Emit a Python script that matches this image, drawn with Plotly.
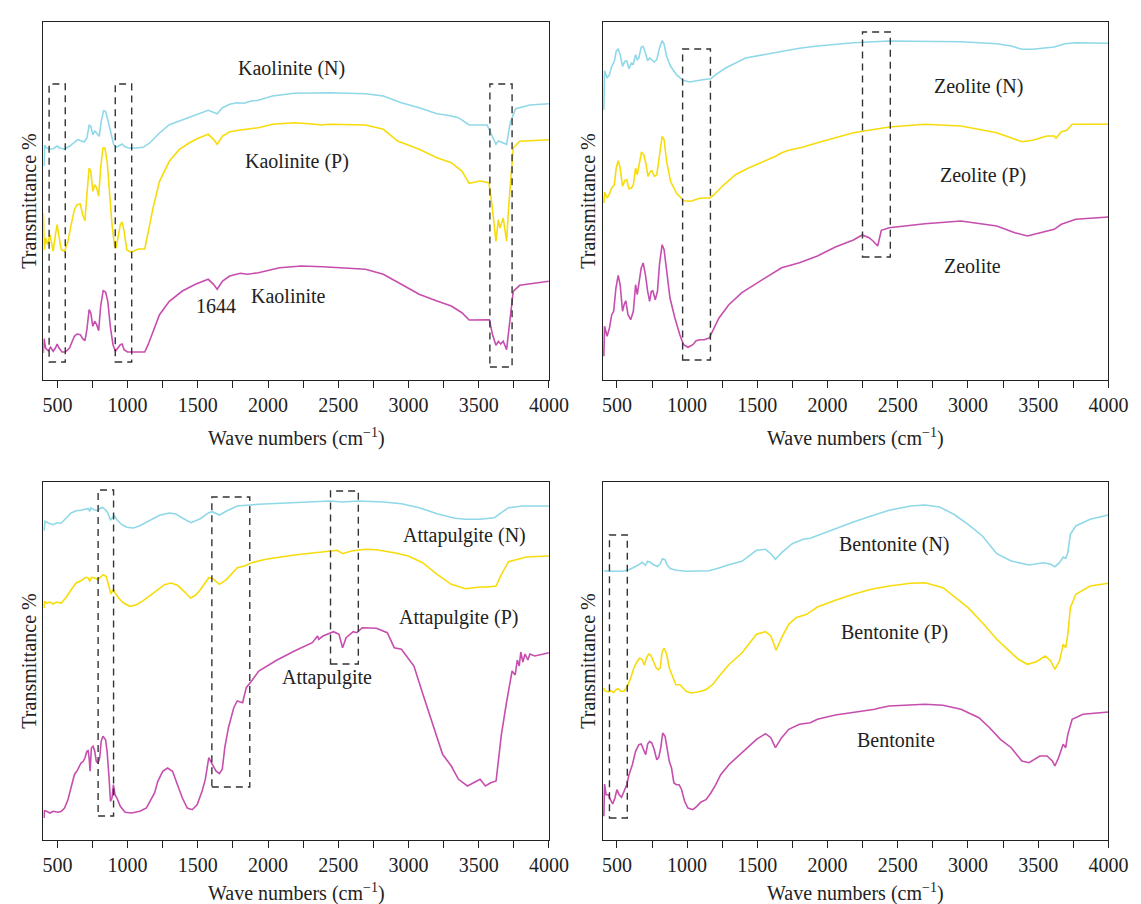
import plotly.graph_objects as go

# ---------------- data (wavenumber cm-1, transmittance a.u.) ----------------
kao_n_wn = [405, 409, 423, 447, 470, 498, 516, 551, 586, 621, 645, 668, 691, 710, 726, 738, 752, 766, 780, 798,
            812, 829, 843, 859, 882, 901, 920, 943, 961, 975, 1006, 1064, 1111, 1157, 1227, 1297, 1390, 1483, 1553,
            1574, 1638, 1676, 1727, 1778, 1829, 1880, 1931, 2032, 2185, 2440, 2694, 2821, 2949, 3076, 3203, 3280,
            3356, 3432, 3560, 3598, 3623, 3641, 3674, 3699, 3725, 3763, 3865, 4000]
kao_n_t = [213.7, 234.7, 232, 231, 231.3, 234, 232, 231, 233.7, 238, 240.3, 239.3, 238, 242, 254.7, 253.7, 245.3,
           248.7, 247, 243.7, 258.7, 269.3, 268.7, 260.3, 245.3, 235.3, 232.7, 234.7, 236, 233.7, 232, 232, 232.7,
           237, 247, 255.3, 260.3, 265.3, 269.3, 269.7, 266.3, 272.3, 275.7, 277.3, 276.7, 279, 279.7, 284, 286.7,
           287.3, 286.3, 284, 277.3, 272.3, 266.3, 264.7, 262.3, 255, 255, 242.3, 235.7, 239, 237.3, 235.7, 257.3,
           271.3, 275, 276.3]

kao_p_wn = [400, 407, 416, 430, 447, 470, 486, 498, 509, 528, 551, 575, 598, 621, 640, 663, 680, 696, 710, 726,
            738, 752, 766, 780, 794, 808, 824, 838, 854, 873, 889, 906, 917, 931, 948, 961, 975, 994, 1017, 1041,
            1076, 1122, 1146, 1181, 1227, 1297, 1367, 1437, 1507, 1574, 1612, 1638, 1676, 1727, 1803, 1931, 2032,
            2185, 2338, 2376, 2440, 2694, 2821, 2923, 3076, 3203, 3305, 3381, 3432, 3509, 3573, 3595, 3623, 3640,
            3652, 3675, 3699, 3712, 3746, 3792, 4000]
kao_p_t = [167, 130.3, 142, 135.3, 145.3, 128.7, 145.3, 155.3, 145.3, 130.3, 128.7, 138.7, 155.3, 170.3, 175.3,
           176, 165.3, 159.3, 185.3, 212, 208.7, 188.7, 195.3, 192, 183.7, 212, 232, 232, 218.7, 185.3, 155.3,
           135.3, 132, 142, 155.3, 158, 148.7, 130.3, 128, 128.7, 131, 131, 148.7, 172, 198.7, 218.7, 230.3, 237,
           242, 245.7, 240.7, 235.7, 244, 248.3, 250, 252.3, 255.7, 257.3, 255.7, 255, 255.7, 255, 250.7, 239,
           230.7, 222.3, 217.3, 209, 196.7, 199, 197.3, 175, 138.7, 160.3, 152, 162, 138.7, 170, 232, 238.7, 240.3]

kao_wn = [400, 405, 416, 435, 451, 470, 486, 498, 512, 533, 556, 586, 621, 640, 663, 680, 696, 710, 726, 738, 752,
          766, 780, 794, 808, 826, 843, 859, 878, 896, 913, 931, 948, 961, 975, 999, 1064, 1122, 1146, 1181, 1227,
          1297, 1390, 1483, 1553, 1574, 1612, 1638, 1676, 1727, 1803, 1854, 1931, 2083, 2236, 2389, 2694, 2821,
          2949, 3076, 3203, 3305, 3381, 3432, 3576, 3599, 3623, 3640, 3657, 3675, 3699, 3722, 3746, 3792, 4000]
kao_t = [27, 41.3, 32, 29.3, 32.7, 28.7, 32, 36, 32, 28, 28, 32, 43.7, 46, 45.3, 41.3, 39.3, 50.3, 70.3, 67, 53.7,
         58.7, 55.3, 49.3, 73.7, 89.3, 88, 78.7, 52, 35.3, 28.7, 32, 35.3, 36, 30.3, 28, 28, 28, 35.3, 48.7, 65.3,
         78.7, 89, 95.7, 99.3, 100.7, 95.7, 90.7, 99, 104, 106.7, 105.7, 107.3, 112.3, 114, 113.3, 110.7, 105.7,
         95.7, 85.7, 79, 74, 67.3, 60, 60.3, 45.3, 34.7, 38.7, 36, 38.7, 30.3, 58.7, 88.7, 94.7, 98.7]

zeo_n_wn = [407, 412, 430, 447, 463, 482, 495, 509, 523, 540, 556, 570, 586, 603, 617, 633, 645, 656, 673, 687,
            703, 719, 733, 749, 766, 784, 803, 822, 836, 854, 882, 924, 971, 1017, 1064, 1111, 1169, 1204, 1274,
            1344, 1417, 1622, 1800, 1928, 2184, 2439, 2694, 2950, 3205, 3308, 3384, 3461, 3614, 3691, 3768, 4000]
zeo_n_t = [270.3, 309.3, 302, 305.3, 313.7, 318.7, 328.7, 331.3, 325.3, 313.7, 318.7, 319.3, 311.3, 317, 316,
           325.3, 320.3, 322, 332.7, 333.7, 327, 319.3, 322, 320.3, 318, 320.3, 332, 339.3, 336, 323.7, 313.7,
           305.3, 299.7, 298, 299.3, 300.3, 301.3, 305.3, 312, 317, 322, 327.3, 331.7, 334, 337.3, 339, 339,
           338.3, 336.3, 334, 330.7, 330.7, 333, 336.3, 337.3, 336.7]

zeo_p_wn = [407, 412, 430, 447, 463, 482, 495, 509, 523, 540, 556, 570, 586, 603, 617, 633, 645, 659, 675, 691,
            708, 721, 738, 749, 766, 784, 803, 822, 836, 854, 882, 924, 975, 1029, 1076, 1111, 1162, 1192, 1250,
            1344, 1437, 1519, 1596, 1634, 1673, 1724, 1826, 1928, 2184, 2439, 2694, 2950, 3205, 3308, 3384, 3461,
            3563, 3614, 3627, 3665, 3704, 3742, 4000]
zeo_p_t = [177, 188, 182, 186, 192, 195.3, 212, 219.3, 212, 193.7, 199.3, 200.3, 191.3, 192, 195.3, 212, 205.3,
           215.3, 228, 225.3, 215.3, 203.7, 208.7, 209.3, 203.7, 205.3, 225.3, 243.7, 240.3, 218.7, 198.7, 187,
           179.3, 178.7, 181.3, 182, 182, 185.3, 193.7, 205.3, 212, 217, 222.3, 224, 227.3, 229.7, 233, 237.3,
           247.3, 253, 255.7, 254, 247.3, 242.3, 238.3, 239.7, 244, 244, 241.7, 248.3, 249.7, 255.7, 255.7]

zeo_wn = [407, 412, 430, 447, 463, 477, 493, 509, 523, 540, 551, 563, 579, 598, 617, 633, 645, 656, 673, 687, 703,
          719, 733, 745, 756, 773, 789, 803, 822, 836, 854, 878, 913, 948, 975, 1006, 1041, 1064, 1092, 1122, 1157,
          1181, 1227, 1297, 1390, 1483, 1622, 1673, 1800, 1928, 2056, 2184, 2247, 2296, 2324, 2357, 2383, 2439,
          2694, 2950, 3205, 3333, 3423, 3512, 3614, 3665, 3768, 4000]
zeo_t = [23.7, 53.7, 43.7, 52, 65.3, 68.7, 92, 104.7, 95.3, 68.7, 75.3, 79.3, 65.3, 60.3, 68.7, 95.3, 85.3, 95.3,
         112, 117, 105.3, 88.7, 78.7, 88.7, 89.3, 80.3, 88.7, 115.3, 135.3, 130.3, 108.7, 82, 62, 45.3, 35.3, 32.7,
         35.3, 39.3, 40.3, 40.3, 42, 48.7, 62, 75.3, 87.3, 95.7, 107.3, 112.3, 117.3, 124, 133, 140, 145, 142.3,
         139, 134, 149.7, 152.3, 156.3, 159, 154, 147.3, 144, 147.3, 150.7, 155.7, 160.7, 163]

att_n_wn = [405, 412, 435, 470, 493, 528, 563, 598, 633, 668, 703, 719, 731, 738, 761, 789, 801, 819, 843, 859,
            878, 892, 906, 924, 959, 994, 1041, 1087, 1134, 1181, 1227, 1297, 1344, 1390, 1451, 1518, 1578, 1603,
            1654, 1705, 1781, 1934, 2188, 2442, 2531, 2645, 2823, 2950, 3077, 3204, 3332, 3408, 3510, 3611, 3662,
            3713, 3814, 4000]
att_n_t = [309.3, 318.7, 317, 315.3, 317, 317, 322, 327, 329.3, 329.7, 331, 331.3, 328.7, 332, 330.3, 329.3,
           331.3, 332.7, 330.3, 327, 320.3, 322.7, 324.3, 320.3, 315.3, 312.7, 312, 314.3, 318, 321.3, 324.7, 327,
           326, 322, 317.3, 321.3, 327.3, 328.3, 325, 329, 334, 335.7, 337.3, 339, 338, 339, 338, 336.3, 332.3,
           326.3, 321.7, 320.7, 320.7, 322.3, 327.3, 332.3, 334, 334]

att_p_wn = [405, 407, 423, 447, 470, 493, 528, 563, 598, 633, 668, 703, 719, 731, 742, 766, 789, 808, 826, 847,
            866, 882, 896, 913, 936, 971, 1017, 1064, 1111, 1169, 1215, 1262, 1309, 1355, 1402, 1448, 1483, 1518,
            1578, 1603, 1654, 1705, 1781, 1832, 1883, 1984, 2188, 2442, 2493, 2531, 2594, 2696, 2772, 2899, 2999,
            3101, 3204, 3305, 3408, 3510, 3560, 3624, 3662, 3713, 3840, 4000]
att_p_t = [232, 238.7, 237, 238, 236, 238, 237, 242.7, 250.3, 257, 259.3, 262.7, 262, 258.7, 262.7, 262, 260.3,
           262.7, 265.3, 263.7, 255.3, 246, 250.3, 247, 242, 237, 233.7, 235.3, 239.3, 245.3, 250.3, 255.3, 257,
           254.7, 248.7, 242, 244.7, 250.3, 262.3, 261.7, 255.7, 260.7, 272.3, 274, 277.3, 280.7, 285, 289, 289.7,
           286.3, 289, 290.7, 290.3, 287.3, 284, 277.3, 265.7, 255.7, 251.3, 253, 253, 254, 265.7, 278.3, 283, 284]

att_wn = [405, 407, 423, 447, 470, 505, 528, 551, 575, 598, 621, 645, 668, 684, 696, 710, 719, 726, 733, 742, 754,
          766, 777, 789, 801, 812, 824, 843, 854, 868, 878, 889, 899, 910, 924, 948, 982, 1029, 1087, 1134, 1169,
          1192, 1215, 1250, 1285, 1320, 1355, 1390, 1425, 1460, 1495, 1530, 1553, 1578, 1603, 1629, 1654, 1674,
          1692, 1718, 1756, 1781, 1819, 1845, 1883, 1934, 2061, 2188, 2315, 2353, 2361, 2391, 2467, 2505, 2531,
          2556, 2607, 2633, 2671, 2772, 2849, 2899, 2950, 3039, 3103, 3179, 3243, 3305, 3356, 3420, 3510, 3548,
          3586, 3624, 3662, 3700, 3738, 3760, 3775, 3789, 3800, 3815, 3830, 3850, 3865, 3900, 3950, 4000]
att_t = [22, 29.3, 28.7, 27, 28.7, 27.7, 28.7, 32, 40.3, 52, 65.3, 70.3, 77, 78.7, 82, 88.7, 89.3, 82, 68.7, 92,
         93.7, 88.7, 78.7, 77, 82, 98.7, 103.7, 100.3, 88.7, 62, 38.7, 42, 55.3, 45.3, 42, 33.7, 27.7, 27, 28.7, 32,
         42, 47, 58.7, 68.7, 72, 68.7, 55.3, 42, 32, 30.3, 35.3, 48.7, 60.3, 82.3, 75.7, 69, 66.3, 70.7, 92.3,
         112.3, 132.3, 139, 137.3, 152.3, 159, 169, 179.7, 189, 197.3, 204, 200.7, 204, 208.3, 205.7, 192.3, 202.3,
         208.3, 207.3, 212.3, 211.7, 207.3, 192.3, 190.7, 174, 145.7, 112.3, 85.7, 74, 60.7, 54, 60.7, 54, 57.3,
         59, 105.7, 139, 169, 165, 180, 174, 188, 178, 186, 180, 186, 184, 186, 187.3]

ben_n_wn = [407, 435, 482, 540, 586, 621, 656, 680, 703, 719, 738, 761, 789, 808, 824, 843, 859, 882, 924, 994,
            1064, 1157, 1227, 1297, 1390, 1494, 1558, 1596, 1629, 1673, 1749, 1826, 1877, 1979, 2081, 2184, 2311,
            2439, 2592, 2694, 2797, 2899, 3001, 3103, 3205, 3308, 3435, 3538, 3589, 3619, 3652, 3678, 3696, 3711,
            3729, 3768, 3870, 4000]
ben_n_t = [269.3, 268.7, 268.7, 268.7, 270.3, 272.7, 275.3, 277.7, 274.7, 278.7, 277.7, 275.3, 273.7, 276, 281.3,
           280.3, 274.7, 271.3, 269.7, 268.7, 268.7, 269.3, 272, 275.3, 278.7, 289.7, 290.7, 286.3, 280.7, 287.3,
           296.3, 300.7, 301.7, 307.3, 313, 318, 324, 329.7, 334, 335, 333, 325.7, 315.7, 304, 286.3, 279, 275,
           277.3, 275.7, 273.3, 277.3, 283, 281.7, 287.3, 305.7, 314, 320.7, 325]

ben_p_wn = [407, 412, 440, 458, 477, 493, 509, 528, 551, 575, 598, 621, 645, 663, 680, 696, 710, 726, 742, 761,
            780, 796, 808, 822, 836, 854, 873, 896, 920, 948, 971, 994, 1029, 1076, 1134, 1181, 1227, 1297, 1390,
            1494, 1558, 1596, 1634, 1673, 1724, 1775, 1851, 1928, 2056, 2184, 2311, 2439, 2592, 2694, 2822, 2899,
            3001, 3103, 3205, 3282, 3359, 3423, 3487, 3550, 3589, 3619, 3652, 3678, 3696, 3711, 3729, 3768, 3870,
            4000]
ben_p_t = [152, 149.3, 148, 149.3, 147.3, 150.3, 151.3, 148.7, 148.7, 153.7, 162, 172, 178.7, 182, 180.3, 174.7,
           182, 186, 184.7, 178.7, 172, 170.3, 172, 188, 192, 186, 172, 163.7, 155.3, 155.3, 152, 148.7, 147, 148,
           150.3, 155.3, 163.7, 175.3, 187, 205.7, 208.3, 204, 189.7, 202.3, 215.7, 222.3, 225.7, 233, 239.7, 245.7,
           250.7, 254, 256.7, 257.3, 252.3, 244, 232.3, 217.3, 200.7, 190.7, 180.7, 175.7, 178.3, 184, 179, 170.7,
           179, 195.7, 192.3, 205.7, 232.3, 245.7, 254, 256.7]

ben_wn = [407, 412, 423, 440, 454, 470, 486, 500, 516, 533, 551, 570, 586, 610, 633, 656, 673, 691, 705, 719, 733,
          749, 766, 784, 798, 812, 826, 843, 859, 873, 889, 906, 924, 943, 961, 982, 1006, 1041, 1069, 1099, 1134,
          1169, 1204, 1239, 1297, 1390, 1494, 1558, 1596, 1629, 1673, 1724, 1800, 1877, 1928, 2056, 2184, 2337,
          2362, 2439, 2694, 2822, 2950, 3078, 3154, 3231, 3308, 3384, 3435, 3512, 3563, 3601, 3619, 3645, 3678,
          3696, 3711, 3742, 3819, 4000]
ben_t = [23.7, 56, 45.3, 45.3, 40.3, 36, 42, 50.3, 45.3, 42.7, 48.7, 55.3, 65.3, 75.3, 88.7, 95.3, 96, 90.3, 85.3,
         96, 98.7, 97, 90.3, 80.3, 82.7, 92, 107, 103.7, 92, 78.7, 72, 57, 55.3, 55.3, 50.3, 38.7, 32, 30.3, 33.7,
         38, 40.3, 47, 55.3, 65.3, 75.3, 87, 100.7, 106.3, 102.3, 92.3, 102.3, 110.7, 115.7, 117.3, 120.7, 125,
         127.3, 130.7, 131.7, 134, 135.7, 134.7, 130.7, 122.3, 112.3, 100.7, 92.3, 79, 77.3, 84, 84, 79, 74, 82.3,
         95.7, 92.3, 105.7, 120.7, 125.7, 128]

# highlighted regions (wavenumber from, to, T bottom, T top) per panel
kao_boxes = [(441, 556, 18, 296), (912, 1029, 18, 296), (3580, 3738, 13, 296)]
zeo_boxes = [(968, 1166, 20, 331), (2249, 2447, 123, 348)]
att_boxes = [(790, 900, 24, 350), (1600, 1870, 53, 343), (2445, 2643, 176, 349)]
ben_boxes = [(447, 574, 22, 305)]

# labels: (text, wavenumber, T)
kao_labels = [("Kaolinite (N)", 2168, 311), ("Kaolinite (P)", 2203, 218), ("1644", 1630, 74), ("Kaolinite", 2148, 84)]
zeo_labels = [("Zeolite (N)", 3077, 293), ("Zeolite (P)", 3105, 204), ("Zeolite", 3035, 114)]
att_labels = [("Attapulgite (N)", 3399, 305), ("Attapulgite (P)", 3357, 223), ("Attapulgite", 2420, 163)]
ben_labels = [("Bentonite (N)", 2476, 296), ("Bentonite (P)", 2476, 208), ("Bentonite", 2490, 100)]

major_ticks = [500, 1000, 1500, 2000, 2500, 3000, 3500, 4000]
major_text = ["500", "1000", "1500", "2000", "2500", "3000", "3500", "4000"]
minor_ticks = [750, 1250, 1750, 2250, 2750, 3250, 3750]

C_N = "#8fd8e8"
C_P = "#f7dc0c"
C_R = "#c64eae"
FONT = "Liberation Serif"
FS = 20

W, H = 1141, 904
panels = [
    ("", (35, 550), (14, 372), 57, [(kao_n_wn, kao_n_t, C_N), (kao_p_wn, kao_p_t, C_P), (kao_wn, kao_t, C_R)], kao_boxes, kao_labels),
    ("2", (605, 1120), (14, 372), 57, [(zeo_n_wn, zeo_n_t, C_N), (zeo_p_wn, zeo_p_t, C_P), (zeo_wn, zeo_t, C_R)], zeo_boxes, zeo_labels),
    ("3", (35, 550), (474, 832), 52, [(att_n_wn, att_n_t, C_N), (att_p_wn, att_p_t, C_P), (att_wn, att_t, C_R)], att_boxes, att_labels),
    ("4", (605, 1120), (474, 832), 52, [(ben_n_wn, ben_n_t, C_N), (ben_p_wn, ben_p_t, C_P), (ben_wn, ben_t, C_R)], ben_boxes, ben_labels),
]

fig = go.Figure()
layout = dict(width=W, height=H, margin=dict(l=0, r=0, t=0, b=0), paper_bgcolor="white",
              plot_bgcolor="white", showlegend=False, font=dict(family=FONT, size=FS, color="#222"))
shapes, annotations = [], []

for suf, (x0, x1), (yt, yb), tgap, series, boxes, labels in panels:
    xa, ya = "x" + suf, "y" + suf
    for wn, t, col in series:
        fig.add_trace(go.Scatter(x=wn, y=t, mode="lines", line=dict(color=col, width=1.6),
                                 xaxis=xa, yaxis=ya, hoverinfo="skip"))
    layout["xaxis" + suf] = dict(domain=[x0 / W, x1 / W], anchor=ya, range=[400, 4000],
                                 tickmode="array", tickvals=major_ticks, ticktext=major_text,
                                 ticks="outside", ticklen=7, tickwidth=1.2, tickcolor="#222",
                                 minor=dict(tickmode="array", tickvals=minor_ticks, ticks="outside",
                                            ticklen=7, tickwidth=1.2, tickcolor="#222", showgrid=False),
                                 showline=True, linecolor="#222", linewidth=1.3, mirror=True,
                                 showgrid=False, zeroline=False,
                                 tickfont=dict(family=FONT, size=FS, color="#222"))
    layout["yaxis" + suf] = dict(domain=[1 - yb / H, 1 - yt / H], anchor=xa, range=[0, yb - yt],
                                 showticklabels=False, ticks="", showline=True, linecolor="#222",
                                 linewidth=1.3, mirror=True, showgrid=False, zeroline=False,
                                 title=dict(text="Transmittance %", standoff=0,
                                            font=dict(family=FONT, size=FS, color="#222")))
    for (b0, b1, t0, t1) in boxes:
        shapes.append(dict(type="rect", xref=xa, yref=ya, x0=b0, x1=b1, y0=t0, y1=t1,
                           line=dict(color="#333", width=1.4, dash="7px,5px")))
    for txt, wx, ty in labels:
        annotations.append(dict(text=txt, x=wx, y=ty, xref=xa, yref=ya, showarrow=False,
                                xanchor="center", yanchor="middle",
                                font=dict(family=FONT, size=FS, color="#222")))
    # x axis title
    annotations.append(dict(text="Wave numbers (cm<sup>\u22121</sup>)", x=(x0 + x1) / 2 / W,
                            y=1 - (yb + tgap) / H, xref="paper", yref="paper", showarrow=False,
                            xanchor="center", yanchor="middle",
                            font=dict(family=FONT, size=FS, color="#222")))

layout["shapes"] = shapes
layout["annotations"] = annotations
fig.update_layout(**layout)
fig.write_html("out.html")
